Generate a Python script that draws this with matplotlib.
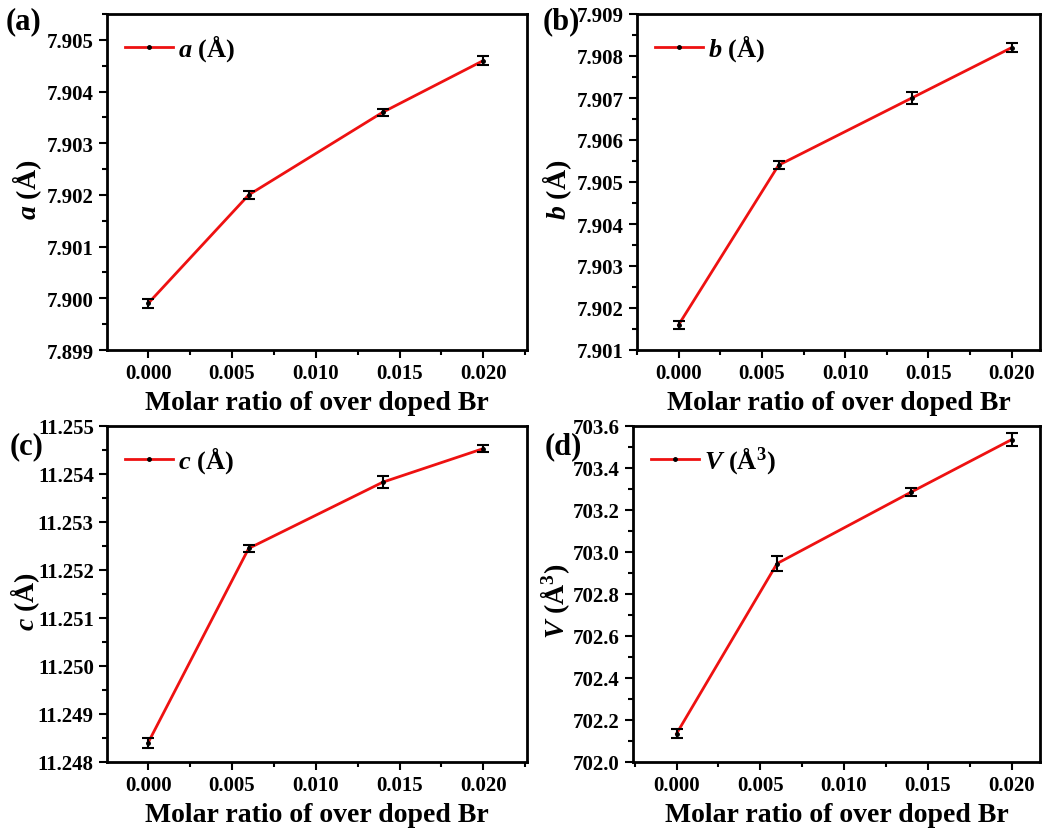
import matplotlib
matplotlib.use("Agg")
import matplotlib.pyplot as plt
from matplotlib.ticker import MultipleLocator, AutoMinorLocator, FormatStrFormatter

plt.rcParams['font.family'] = ['Liberation Serif', 'DejaVu Serif']
plt.rcParams['font.weight'] = 'bold'
plt.rcParams['axes.labelweight'] = 'bold'
plt.rcParams['mathtext.fontset'] = 'custom'
plt.rcParams['mathtext.rm'] = 'Liberation Serif:bold'
plt.rcParams['mathtext.it'] = 'Liberation Serif:italic:bold'
plt.rcParams['mathtext.bf'] = 'Liberation Serif:bold'

# molar ratio of over doped Br
br_ratio = [0.000, 0.006, 0.014, 0.020]

# lattice parameters with their errors
a_vals = [7.8999, 7.9020, 7.9036, 7.9046]
a_err = [0.00008, 0.00008, 0.00007, 0.00008]
b_vals = [7.9016, 7.9054, 7.9070, 7.9082]
b_err = [0.0001, 0.0001, 0.00015, 0.0001]
c_vals = [11.2484, 11.25245, 11.25383, 11.25453]
c_err = [0.0001, 0.00007, 0.00012, 0.00007]
v_vals = [702.135, 702.945, 703.285, 703.535]
v_err = [0.022, 0.035, 0.02, 0.03]

W, H = 1046, 829
fig = plt.figure(figsize=(W / 100, H / 100), dpi=100)


def make_axes(left, top, right, bottom):
    return fig.add_axes([left / W, 1 - bottom / H, (right - left) / W, (bottom - top) / H])


panels = [
    # tag, values, errors, label, ylim, ystep, box, xlim, tag position, ylabel x
    ("(a)", a_vals, a_err, r"$a$ (Å)", (7.899, 7.9055), 0.001, (107, 15, 527, 351), (-0.00245, 0.0226), (6, 22), 44),
    ("(b)", b_vals, b_err, r"$b$ (Å)", (7.901, 7.909), 0.001, (637, 15, 1040, 351), (-0.0025, 0.0217), (543, 22), 574),
    ("(c)", c_vals, c_err, r"$c$ (Å)", (11.248, 11.255), 0.001, (107, 427, 527, 763), (-0.00245, 0.0226), (10, 447), 42),
    ("(d)", v_vals, v_err, r"$V$ (Å$^3$)", (702.0, 703.6), 0.2, (633, 427, 1040, 763), (-0.0026, 0.0217), (545, 447), 572),
]

for tag, vals, errs, label, ylim, ystep, box, xlim, tagpos, ylab_x in panels:
    ax = make_axes(*box)
    ax.plot(br_ratio, vals, color='#ee1111', lw=2, marker='o', ms=2.5,
            mfc='black', mec='black', label=label, zorder=2)
    ax.errorbar(br_ratio, vals, yerr=errs, fmt='none', ecolor='black',
                elinewidth=1.5, capsize=4, capthick=1.5, zorder=3)
    ax.set_xlim(*xlim)
    ax.set_ylim(*ylim)
    ax.xaxis.set_major_locator(MultipleLocator(0.005))
    ax.xaxis.set_minor_locator(AutoMinorLocator(2))
    ax.yaxis.set_major_locator(MultipleLocator(ystep))
    ax.yaxis.set_minor_locator(AutoMinorLocator(2))
    ax.yaxis.set_major_formatter(FormatStrFormatter('%.1f' if ystep == 0.2 else '%.3f'))
    ax.xaxis.set_major_formatter(FormatStrFormatter('%.3f'))
    ax.tick_params(which='both', direction='out', width=1.5, labelsize=15)
    ax.tick_params(which='major', length=6)
    ax.tick_params(which='minor', length=3.5)
    for sp in ax.spines.values():
        sp.set_linewidth(2)
    ax.set_xlabel("Molar ratio of over doped Br", fontsize=20, labelpad=5)
    ax.set_ylabel(label, fontsize=20)
    ax.yaxis.set_label_coords((ylab_x - box[0]) / (box[2] - box[0]), 0.48)
    ax.legend(loc='upper left', frameon=False, fontsize=19, handlelength=1.8,
              handletextpad=0.2, borderaxespad=0.3)
    fig.text(tagpos[0] / W, 1 - tagpos[1] / H, tag, fontsize=22,
             fontweight='bold', va='center', ha='left')

fig.savefig("out.png", dpi=100)
